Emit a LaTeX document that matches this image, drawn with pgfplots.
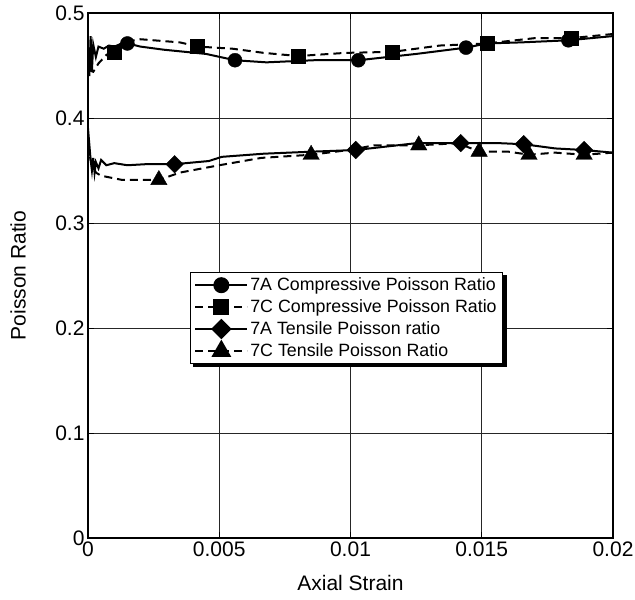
\documentclass[border=0pt]{standalone}
\usepackage{pgfplots}
\pgfplotsset{compat=1.18}
\usepackage{fontspec}
\setmainfont{Liberation Sans}
\begin{document}
\begin{tikzpicture}
\begin{axis}[
  name=ax,
  width=525pt, height=525pt, scale only axis,
  xmin=0, xmax=0.02, ymin=0, ymax=0.5,
  xtick={0,0.005,0.01,0.015,0.02},
  xticklabels={0,0.005,0.01,0.015,0.02},
  ytick={0,0.1,0.2,0.3,0.4,0.5},
  yticklabels={0,0.1,0.2,0.3,0.4,0.5},
  scaled x ticks=false,
  /pgf/number format/assume math mode=true,
  xticklabel style={font=\fontsize{21}{25}\selectfont},
  yticklabel style={font=\fontsize{21}{25}\selectfont},
  xlabel={Axial Strain}, ylabel={Poisson Ratio},
  xlabel style={font=\fontsize{21}{25}\selectfont, at={(axis description cs:0.5,-0.0856)}, anchor=center},
  ylabel style={font=\fontsize{21}{25}\selectfont, at={(axis description cs:-0.1333,0.5)}, anchor=center},
  grid=major,
  major grid style={line width=0.8pt, black!85},
  axis line style={line width=1.6pt},
  tick style={line width=0.8pt, black},
  major tick length=6pt,
  tick align=inside,
  legend cell align=left,
  legend style={name=leg, at={(0.194,0.5057)}, anchor=north west,
    font=\fontsize{17.8}{21}\selectfont, draw=black, line width=1pt, fill=white,
    inner xsep=4pt, inner ysep=3pt, row sep=3.5pt},
  legend image code/.code={
    \draw[#1,mark=none] (0pt,0pt) -- (52pt,0pt);
    \path[#1,solid,only marks] plot coordinates {(26pt,0pt)};
  },
]
\addlegendimage{black, line width=2pt, mark=*, mark size=7pt}
\addlegendentry{7A Compressive Poisson Ratio}
\addlegendimage{black, line width=2pt, dash pattern=on 8pt off 5pt, mark=square*, mark size=7pt}
\addlegendentry{7C Compressive Poisson Ratio}
\addlegendimage{black, line width=2pt, mark=square*, mark options={rotate=45}, mark size=6.2pt}
\addlegendentry{7A Tensile Poisson ratio}
\addlegendimage{black, line width=2pt, dash pattern=on 8pt off 5pt, mark=triangle*, mark size=9.5pt}
\addlegendentry{7C Tensile Poisson Ratio}

% 7A compressive
\addplot[forget plot, black, line width=2pt, mark=none] coordinates {
(0,0.455) (0.00005,0.44) (0.0001,0.478) (0.00015,0.445) (0.0002,0.47) (0.0003,0.458) (0.0004,0.468) (0.0006,0.466) (0.0008,0.469) (0.001,0.468) (0.0012,0.470) (0.0015,0.471) (0.002,0.468) (0.0029,0.465) (0.0037,0.463) (0.0045,0.461) (0.0056,0.455) (0.0068,0.453) (0.0086,0.455) (0.0103,0.455) (0.0125,0.461) (0.0144,0.467) (0.0152,0.471) (0.0165,0.472) (0.0183,0.474) (0.02,0.478)};
\addplot[forget plot, black, only marks, mark=*, mark size=7pt] coordinates {
(0.0015,0.471) (0.0056,0.455) (0.0103,0.455) (0.0144,0.467) (0.0183,0.474)};

% 7C compressive
\addplot[forget plot, black, line width=2pt, dash pattern=on 8pt off 5pt, mark=none] coordinates {
(0,0.446) (0.0002,0.444) (0.0004,0.452) (0.0007,0.46) (0.001,0.465) (0.0013,0.472) (0.002,0.475) (0.0035,0.472) (0.0042,0.468) (0.0055,0.466) (0.0067,0.462) (0.008,0.459) (0.0098,0.462) (0.0116,0.463) (0.0134,0.469) (0.0152,0.471) (0.017,0.476) (0.0184,0.476) (0.02,0.480)};
\addplot[forget plot, black, only marks, mark=square*, mark size=7pt] coordinates {
(0.001,0.463) (0.00415,0.468) (0.008,0.459) (0.0116,0.463) (0.0152,0.471) (0.0184,0.476)};

% 7A tensile
\addplot[forget plot, black, line width=2pt, mark=none] coordinates {
(0,0.39) (0.00005,0.375) (0.0001,0.36) (0.00015,0.35) (0.0002,0.362) (0.00025,0.348) (0.0003,0.358) (0.0004,0.352) (0.0005,0.36) (0.0007,0.355) (0.001,0.357) (0.0015,0.355) (0.0022,0.356) (0.0033,0.356) (0.0046,0.359) (0.0051,0.363) (0.0067,0.366) (0.0086,0.368) (0.0102,0.3695) (0.0125,0.376) (0.0142,0.376) (0.0157,0.376) (0.0166,0.375) (0.0178,0.371) (0.0189,0.3695) (0.02,0.367)};
\addplot[forget plot, black, only marks, mark=square*, mark options={rotate=45}, mark size=6.2pt] coordinates {
(0.0033,0.356) (0.0102,0.3695) (0.0142,0.376) (0.0166,0.375) (0.0189,0.3695)};

% 7C tensile
\addplot[forget plot, black, line width=2pt, dash pattern=on 8pt off 5pt, mark=none] coordinates {
(0,0.375) (0.0001,0.36) (0.0003,0.348) (0.0005,0.345) (0.0013,0.341) (0.0022,0.341) (0.0027,0.341) (0.0035,0.348) (0.005,0.355) (0.0066,0.362) (0.0085,0.365) (0.0101,0.37) (0.0109,0.374) (0.0126,0.374) (0.0141,0.376) (0.0149,0.368) (0.016,0.368) (0.0168,0.365) (0.0178,0.367) (0.0189,0.365) (0.02,0.367)};
\addplot[forget plot, black, only marks, mark=triangle*, mark size=9.5pt] coordinates {
(0.0027,0.341) (0.0085,0.365) (0.0126,0.374) (0.0149,0.368) (0.0168,0.365) (0.0189,0.365)};
\end{axis}
% legend drop shadow
\fill[black] ([xshift=3pt]leg.south west) rectangle ([xshift=3.5pt,yshift=-3.5pt]leg.south east);
\fill[black] ([yshift=-3pt]leg.north east) rectangle ([xshift=3.5pt,yshift=-3.5pt]leg.south east);
\pgfresetboundingbox
\path (ax.south west) ++(-88pt,-62pt) rectangle ([shift={(22pt,13pt)}]ax.north east);
\end{tikzpicture}
\end{document}
